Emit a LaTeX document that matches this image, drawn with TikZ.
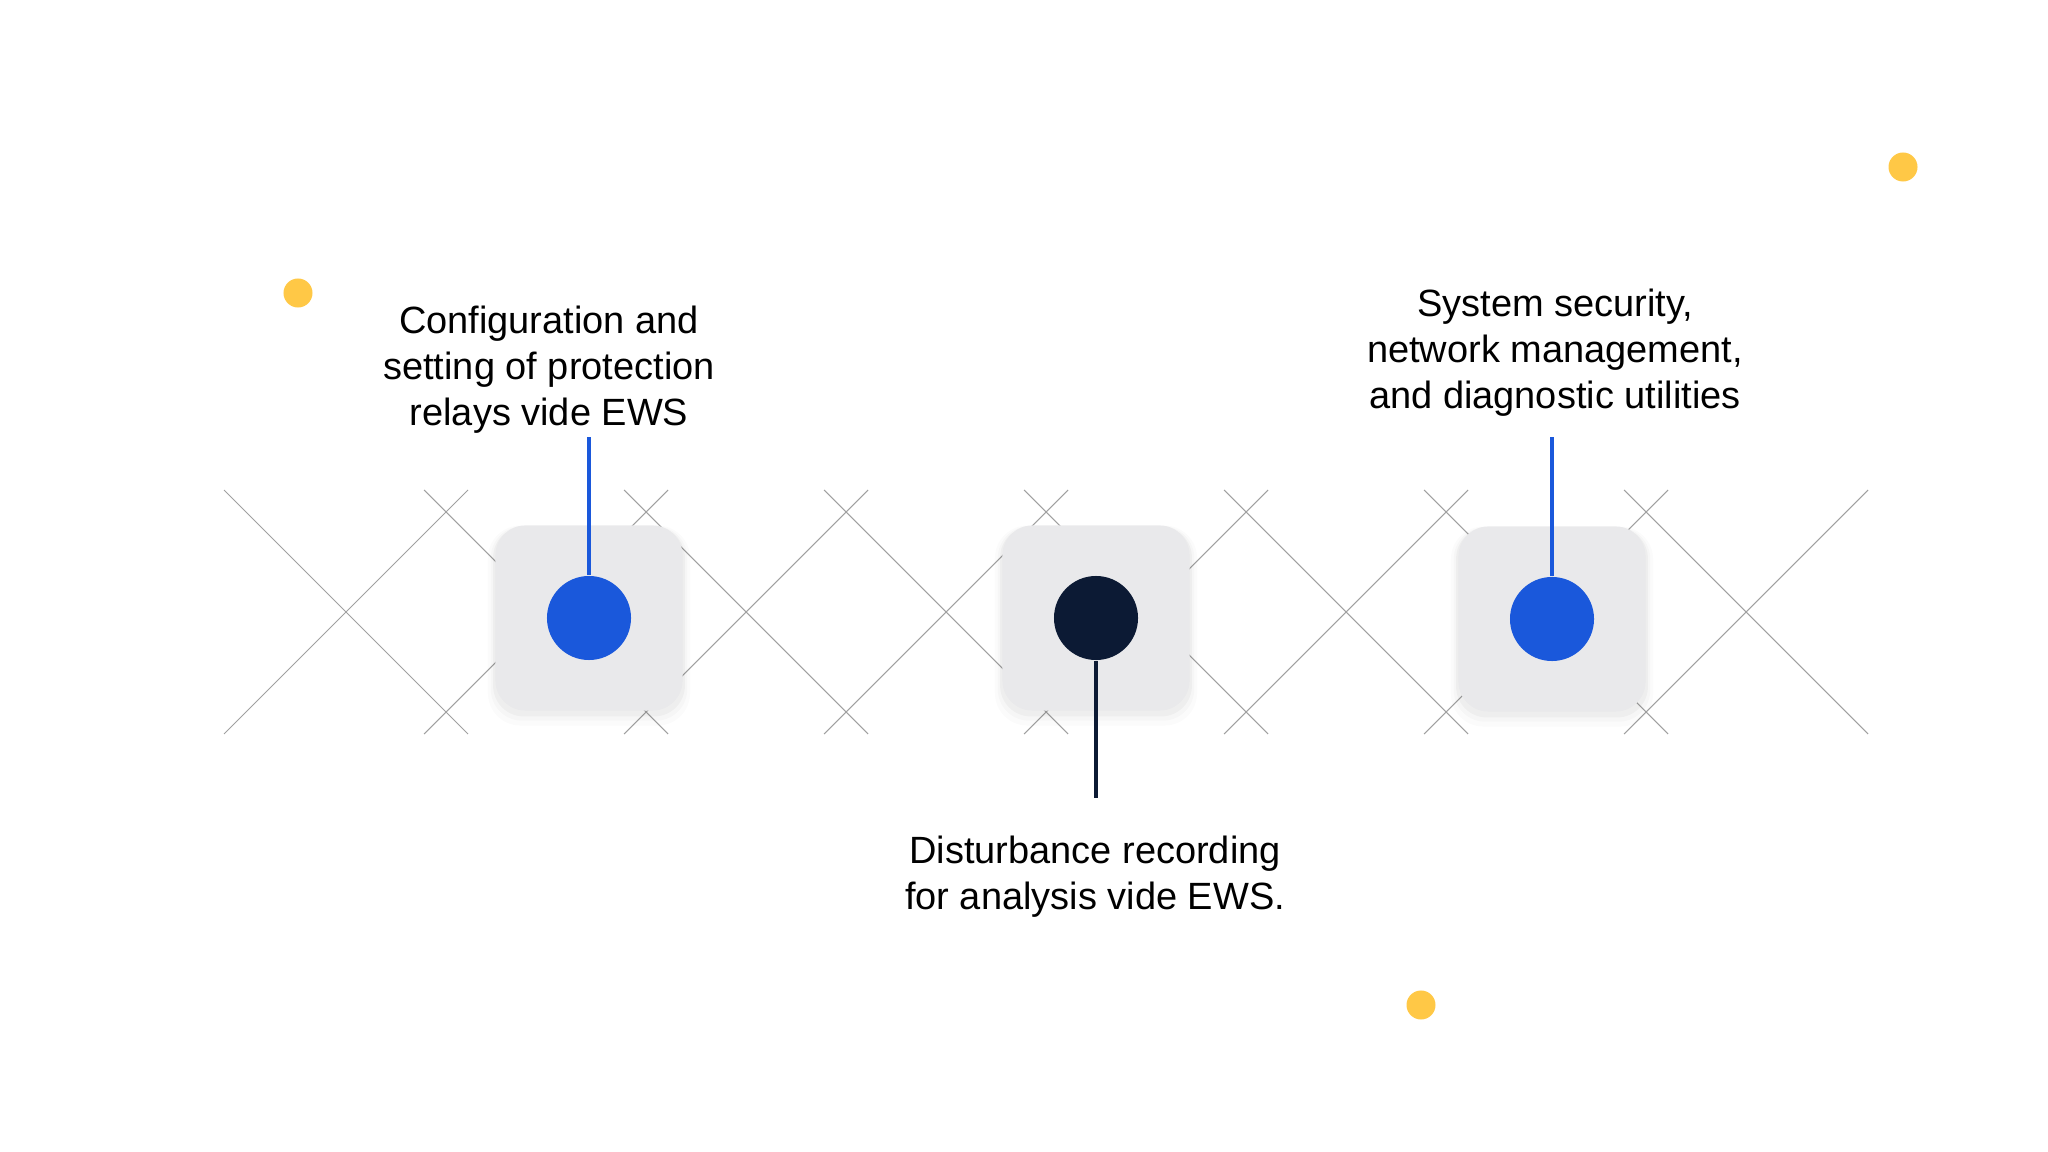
\documentclass[tikz,border=0pt]{standalone}
\usepackage{fontspec}
\setmainfont{Liberation Sans}
\usepackage{xcolor}
\usepackage{tikz}
\usetikzlibrary{
  positioning,
  shadows
}
\definecolor{cardgray}{RGB}{233,233,235}
\definecolor{dotblue}{RGB}{26,88,219}
\definecolor{dotnavy}{RGB}{12,26,52}
\definecolor{gridgray}{RGB}{160,160,160}
\definecolor{sunyellow}{RGB}{255,200,70}

\begin{document}
\begin{tikzpicture}[
  x=0.01cm, y=-0.01cm,
  card/.style ={rounded corners=0.3cm,fill=cardgray,minimum width=1.87cm,
                minimum height=1.85cm,inner sep=0pt,
                general shadow={fill=black,opacity=.015,shadow scale=1.08,shadow yshift=-2pt},
                general shadow={fill=black,opacity=.02,shadow scale=1.05,shadow yshift=-1.5pt},
                general shadow={fill=black,opacity=.03,shadow scale=1.025,shadow yshift=-1pt}},
  dot/.style  ={circle,minimum size=0.84cm,inner sep=0pt},
  spot/.style ={circle,fill=sunyellow,minimum size=0.29cm,inner sep=0pt},
  lbl/.style  ={align=center,inner sep=0pt,anchor=north,
                font=\fontsize{10.8}{13.1}\selectfont},
  grid/.style ={gridgray,line width=0.3pt},
  stem/.style ={line width=1.1pt},
]
\useasboundingbox (0,0) rectangle (2048,1152);

% lattice of crossing lines
\foreach \cx in {346,546,...,1746}
  \draw[grid] (\cx-122,490) -- (\cx+122,734) (\cx-122,734) -- (\cx+122,490);

% cards with their dots
\node[card] (c1) at (589,618) {};
\node[card] (c2) at (1096,618) {};
\node[card] (c3) at (1552,619) {};
\node[dot, fill=dotblue] (d1) at (c1) {};
\node[dot, fill=dotnavy] (d2) at (c2) {};
\node[dot, fill=dotblue] (d3) at (c3) {};

% labels
\node[lbl] (cfg) at (549,305) {Configuration and\\setting of protection\\relays vide EWS};
\node[lbl] (dist) at (1095,835) {Disturbance recording\\for analysis vide EWS.};
\node[lbl] (sys) at (1555,288) {System security,\\network management,\\and diagnostic utilities};

\coordinate (t1) at (589,437);
\coordinate (t2) at (1096,798);
\coordinate (t3) at (1552,437);
\draw[stem, dotblue] (d1.north) -- (t1);
\draw[stem, dotnavy] (d2.south) -- (t2);
\draw[stem, dotblue] (d3.north) -- (t3);

% yellow spots
\node[spot] (s1) at (298,293) {};
\node[spot] (s2) at (1903,167) {};
\node[spot] (s3) at (1421,1005) {};
\end{tikzpicture}
\end{document}
